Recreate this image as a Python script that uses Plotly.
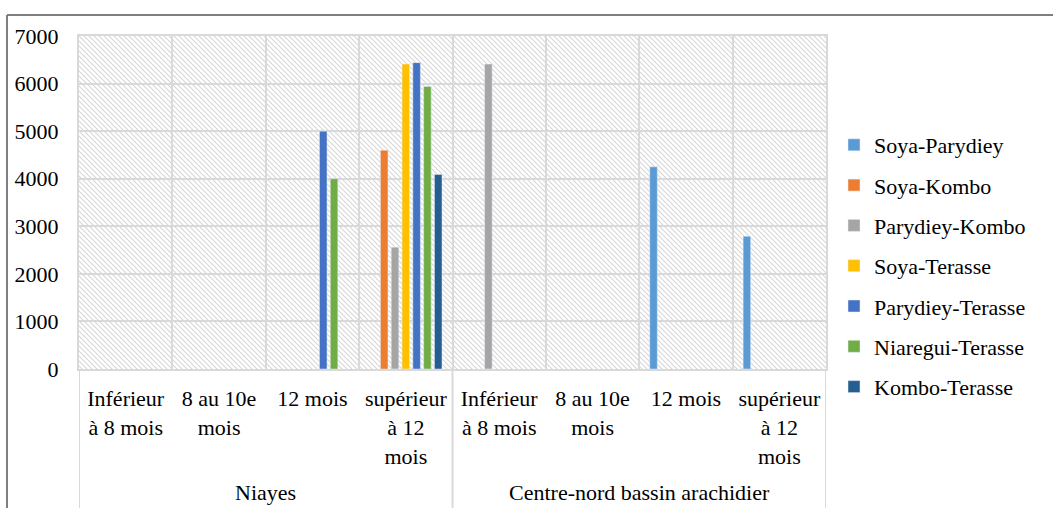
import base64
import plotly.graph_objects as go

group_names = ["Niayes", "Centre-nord bassin arachidier"]
period_labels = ["Inférieur<br>à 8 mois", "8 au 10e<br>mois", "12 mois", "supérieur<br>à 12<br>mois"]
categories = period_labels * 2
cat_index = list(range(len(categories)))

series_names = ["Soya-Parydiey", "Soya-Kombo", "Parydiey-Kombo", "Soya-Terasse",
                "Parydiey-Terasse", "Niaregui-Terasse", "Kombo-Terasse"]
soya_parydiey = [None, None, None, None, None, None, 4250, 2790]
soya_kombo = [None, None, None, 4600, None, None, None, None]
parydiey_kombo = [None, None, None, 2560, 6410, None, None, None]
soya_terasse = [None, None, None, 6410, None, None, None, None]
parydiey_terasse = [None, None, 5000, 6440, None, None, None, None]
niaregui_terasse = [None, None, 4000, 5940, None, None, None, None]
kombo_terasse = [None, None, None, 4090, None, None, None, None]
series_values = [soya_parydiey, soya_kombo, parydiey_kombo, soya_terasse,
                 parydiey_terasse, niaregui_terasse, kombo_terasse]
colors = ["#5B9BD5", "#ED7D31", "#A5A5A5", "#FFC000", "#4472C4", "#70AD47", "#255E91"]

FONT = "Liberation Serif, Times New Roman, serif"
GRID = "#d9d9d9"

fig = go.Figure()
for name, vals, col in zip(series_names, series_values, colors):
    fig.add_trace(go.Bar(x=cat_index, y=vals, name=name, marker_color=col, legendgroup=name))

# hatch background pattern
W, H = 747, 333
svg = f'''<svg xmlns="http://www.w3.org/2000/svg" width="{W}" height="{H}">
<defs><pattern id="p" patternUnits="userSpaceOnUse" width="5" height="5">
<path d="M-1,-1 L6,6 M-1,4 L1,6 M4,-1 L6,1" stroke="#d6d6d6" stroke-width="1.1"/>
</pattern></defs>
<rect width="{W}" height="{H}" fill="white"/>
<rect width="{W}" height="{H}" fill="url(#p)"/>
</svg>'''
src = "data:image/svg+xml;base64," + base64.b64encode(svg.encode()).decode()

L, R, T, B = 79, 826, 36, 369
PW, PH = R - L, B - T

def px(x):
    return (x - L) / PW

def py(y):
    return (B - y) / PH

n_per_group = len(period_labels)
boundaries = [i - 0.5 for i in range(len(categories) + 1)]
group_edges = [g * n_per_group - 0.5 for g in range(len(group_names) + 1)]

shapes = [
    dict(type="line", xref="paper", yref="paper", x0=px(7), x1=px(1060), y0=py(15), y1=py(15),
         line=dict(color="#7f7f7f", width=2)),
    dict(type="line", xref="paper", yref="paper", x0=px(7), x1=px(7), y0=py(15), y1=py(520),
         line=dict(color="#7f7f7f", width=2)),
]
for e in group_edges:
    shapes.append(dict(type="line", xref="x", yref="paper", x0=e, x1=e, y0=0, y1=py(520),
                       line=dict(color=GRID, width=2)))

annotations = []
for g, gname in enumerate(group_names):
    center = g * n_per_group + (n_per_group - 1) / 2
    annotations.append(dict(x=center, xref="x", y=py(492), yref="paper", text=gname,
                            showarrow=False, xanchor="center", yanchor="middle",
                            font=dict(family=FONT, size=22, color="#000000")))

fig.update_layout(
    width=1053, height=508,
    margin=dict(l=L, r=1053 - R, t=T, b=508 - B, autoexpand=False),
    paper_bgcolor="white", plot_bgcolor="white",
    barmode="group", bargap=0.19, bargroupgap=0.3,
    font=dict(family=FONT, size=22, color="#000000"),
    showlegend=True,
    legend=dict(x=px(834), y=py(124), xanchor="left", yanchor="top",
                font=dict(family=FONT, size=22, color="#000000"),
                tracegroupgap=8.7, itemwidth=30, bgcolor="rgba(0,0,0,0)"),
    images=[dict(source=src, xref="paper", yref="paper", x=0, y=1, sizex=1, sizey=1,
                 xanchor="left", yanchor="top", sizing="stretch", layer="below")],
    shapes=shapes,
    annotations=annotations,
)
fig.update_yaxes(range=[0, 7000], dtick=1000, showgrid=True, gridcolor=GRID, gridwidth=2,
                 zeroline=False, showline=True, linecolor=GRID, linewidth=2, mirror=True,
                 tickfont=dict(family=FONT, size=22, color="#000000"), ticks="",
                 ticklabelstandoff=14)
fig.update_xaxes(range=[boundaries[0], boundaries[-1]], tickmode="array", tickvals=cat_index,
                 ticktext=categories, showgrid=False, zeroline=False,
                 minor=dict(tickmode="array", tickvals=boundaries, showgrid=True,
                            gridcolor=GRID, gridwidth=2, ticks=""),
                 showline=True, linecolor=GRID, linewidth=2, mirror=True, ticks="",
                 ticklabelstandoff=9,
                 tickfont=dict(family=FONT, size=22, color="#000000"))

fig.write_html("out.html")
